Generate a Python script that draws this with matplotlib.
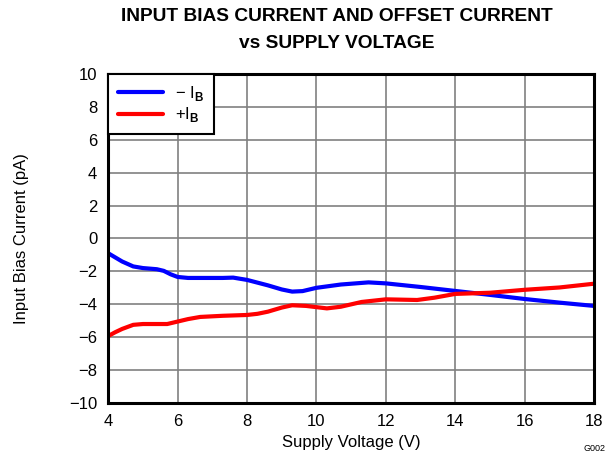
import matplotlib
matplotlib.use('Agg')
from matplotlib import pyplot as plt

plt.rcParams['font.family'] = ['Liberation Sans', 'DejaVu Sans']
plt.rcParams['mathtext.fontset'] = 'custom'
plt.rcParams['mathtext.rm'] = 'Liberation Sans'
plt.rcParams['mathtext.bf'] = 'Liberation Sans:bold'

# supply voltage (V) and input bias currents (pA)
v_neg = [4.0, 4.2, 4.4, 4.72, 5.0, 5.4, 5.6, 5.8, 6.0, 6.3, 6.6, 7.3, 7.6, 8.0, 8.6, 9.0, 9.3, 9.6, 10.0, 10.7, 11.5, 12.0, 13.0, 14.0, 15.0, 16.0, 17.0, 18.0]
i_neg = [-0.9, -1.15, -1.4, -1.7, -1.8, -1.87, -1.97, -2.18, -2.34, -2.4, -2.4, -2.4, -2.38, -2.52, -2.85, -3.1, -3.23, -3.2, -3.0, -2.8, -2.67, -2.73, -2.95, -3.19, -3.43, -3.68, -3.9, -4.1]

v_pos = [4.0, 4.2, 4.4, 4.72, 5.0, 5.7, 6.0, 6.3, 6.65, 7.3, 8.0, 8.3, 8.6, 9.0, 9.3, 9.7, 10.3, 10.7, 11.3, 12.0, 12.9, 13.4, 14.0, 15.0, 16.0, 17.0, 18.0]
i_pos = [-5.93, -5.7, -5.5, -5.25, -5.2, -5.2, -5.05, -4.9, -4.77, -4.7, -4.65, -4.58, -4.45, -4.2, -4.06, -4.1, -4.25, -4.15, -3.86, -3.7, -3.74, -3.6, -3.37, -3.3, -3.12, -2.98, -2.75]

x_ticks = [4, 6, 8, 10, 12, 14, 16, 18]
y_ticks = [-10, -8, -6, -4, -2, 0, 2, 4, 6, 8, 10]

fig = plt.figure(figsize=(6.15, 4.59), dpi=100)
ax = fig.add_axes([0.176, 0.122, 0.790, 0.717])

ax.plot(v_neg, i_neg, color='#0000ff', lw=3, solid_capstyle='round', solid_joinstyle='round',
        label='\u2212 I$_{\\mathbf{B}}$')
ax.plot(v_pos, i_pos, color='#ff0000', lw=3, solid_capstyle='round', solid_joinstyle='round',
        label='+I$_{\\mathbf{B}}$')

ax.set_xlim(4, 18)
ax.set_ylim(-10, 10)
ax.set_xticks(x_ticks)
ax.set_yticks(y_ticks)
ax.set_yticklabels([str(t).replace('-', '\u2212') for t in y_ticks])
ax.tick_params(length=0, labelsize=12)
ax.tick_params(axis='x', pad=8)
ax.tick_params(axis='y', pad=8)
ax.grid(True, color='#808080', lw=1.2)
for s in ax.spines.values():
    s.set_linewidth(2.2)
    s.set_color('black')

ax.set_xlabel('Supply Voltage (V)', fontsize=12, labelpad=4)
ax.set_ylabel('Input Bias Current (pA)', fontsize=12, labelpad=29)

fig.text(0.547, 0.965, 'INPUT BIAS CURRENT AND OFFSET CURRENT', fontsize=13.8,
         fontweight='bold', ha='center', va='center')
fig.text(0.547, 0.906, 'vs SUPPLY VOLTAGE', fontsize=13.8,
         fontweight='bold', ha='center', va='center')

leg = ax.legend(loc='upper left', bbox_to_anchor=(0, 1), borderaxespad=0,
                fontsize=12, frameon=True, fancybox=False, handlelength=2.7,
                handletextpad=0.7, borderpad=0.6, labelspacing=0.15)
leg.get_frame().set_edgecolor('black')
leg.get_frame().set_linewidth(1.5)
leg.get_frame().set_alpha(1)

fig.text(0.985, 0.012, 'G002', fontsize=6.5, ha='right', va='bottom')

fig.savefig('out.png', dpi=100)
